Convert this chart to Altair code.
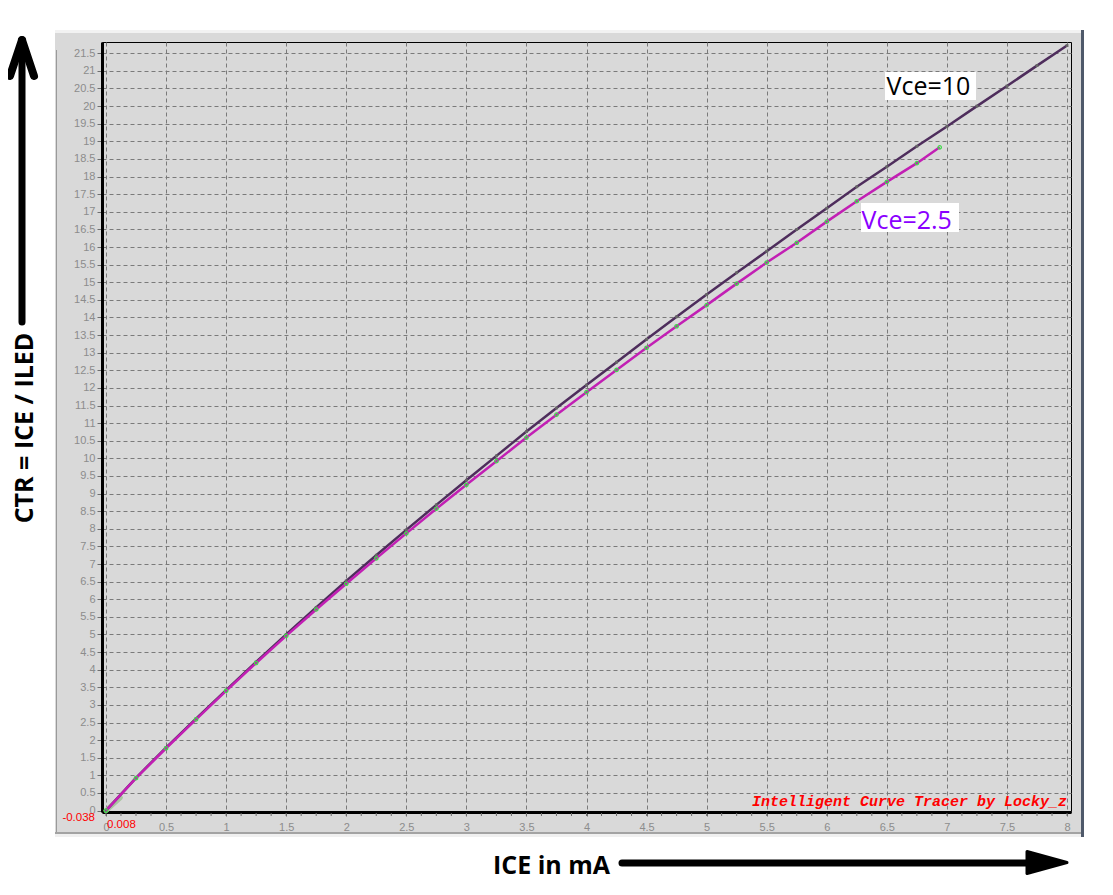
import altair as alt
import pandas as pd

# ---- data ----
ice_vce10 = [0.0, 0.25, 0.5, 0.75, 1.0, 1.25, 1.5, 1.75, 2.0, 2.25, 2.5, 2.75, 3.0, 3.25, 3.5, 3.75,
             4.0, 4.25, 4.5, 4.75, 5.0, 5.25, 5.5, 5.75, 6.0, 6.25, 6.5, 6.75, 7.0, 7.25, 7.5, 7.75, 8.0]
ctr_vce10 = [0.0, 0.93, 1.79, 2.61, 3.42, 4.22, 5.00, 5.77, 6.52, 7.25, 7.97, 8.68, 9.38, 10.07, 10.76, 11.43,
             12.08, 12.73, 13.38, 14.02, 14.65, 15.27, 15.88, 16.50, 17.10, 17.71, 18.28, 18.86, 19.42, 20.00,
             20.57, 21.15, 21.72]

ice_vce25 = [0.0, 0.25, 0.5, 0.75, 1.0, 1.25, 1.5, 1.75, 2.0, 2.25, 2.5, 2.75, 3.0, 3.25, 3.5, 3.75,
             4.0, 4.25, 4.5, 4.75, 5.0, 5.25, 5.5, 5.75, 6.0, 6.25, 6.5, 6.75, 6.94]
ctr_vce25 = [0.0, 0.92, 1.77, 2.59, 3.40, 4.19, 4.96, 5.71, 6.44, 7.16, 7.87, 8.57, 9.25, 9.92, 10.59, 11.24,
             11.88, 12.51, 13.14, 13.75, 14.35, 14.96, 15.56, 16.12, 16.72, 17.30, 17.85, 18.38, 18.83]

ice_start = [0.0, 0.12]
ctr_start = [0.0, 0.37]

x_ticks = [0, 0.5, 1, 1.5, 2, 2.5, 3, 3.5, 4, 4.5, 5, 5.5, 6, 6.5, 7, 7.5, 8]
y_ticks = [0, 0.5, 1, 1.5, 2, 2.5, 3, 3.5, 4, 4.5, 5, 5.5, 6, 6.5, 7, 7.5, 8, 8.5, 9, 9.5, 10, 10.5,
           11, 11.5, 12, 12.5, 13, 13.5, 14, 14.5, 15, 15.5, 16, 16.5, 17, 17.5, 18, 18.5, 19, 19.5,
           20, 20.5, 21, 21.5]
minor_x_ticks = [0, 0.125, 0.25, 0.375, 0.5, 0.625, 0.75, 0.875, 1, 1.125, 1.25, 1.375, 1.5, 1.625, 1.75,
                 1.875, 2, 2.125, 2.25, 2.375, 2.5, 2.625, 2.75, 2.875, 3, 3.125, 3.25, 3.375, 3.5, 3.625,
                 3.75, 3.875, 4, 4.125, 4.25, 4.375, 4.5, 4.625, 4.75, 4.875, 5, 5.125, 5.25, 5.375, 5.5,
                 5.625, 5.75, 5.875, 6, 6.125, 6.25, 6.375, 6.5, 6.625, 6.75, 6.875, 7, 7.125, 7.25, 7.375,
                 7.5, 7.625, 7.75, 7.875, 8]

x_min_text = "0.008"
y_min_text = "-0.038"
label_10 = "Vce=10"
label_25 = "Vce=2.5"
y_title = "CTR = ICE / ILED"
x_title = "ICE in mA"
watermark = "Intelligent Curve Tracer by Locky_z"

# ---- layout ----
W, H = 969, 770
PAD = {"left": 94, "top": 34, "right": 34, "bottom": 75}
PANEL = "#d9d9d9"

df10 = pd.DataFrame({"ice": ice_vce10, "ctr": ctr_vce10})
df25 = pd.DataFrame({"ice": ice_vce25, "ctr": ctr_vce25})
dfs = pd.DataFrame({"ice": ice_start, "ctr": ctr_start})
dfm = pd.DataFrame({"tick": minor_x_ticks})
one = pd.DataFrame({"k": [0]})

xscale = alt.Scale(domain=[-0.033, 8.033], nice=False, zero=False)
yscale = alt.Scale(domain=[-0.04, 21.82], nice=False, zero=False)

common_axis = dict(title=None, format="~g", labelColor="#8c8c8c", labelFont="Liberation Sans",
                   labelFontSize=11, tickColor="#6e6e6e", domainColor="black", domainWidth=3,
                   gridColor="#7a7a7a", gridDash=[4, 3], gridWidth=1, gridOpacity=1,
                   labelOverlap=False, labelFlush=False)
xaxis = alt.Axis(values=x_ticks, tickSize=4, labelPadding=5, **common_axis)
yaxis = alt.Axis(values=y_ticks, tickSize=5, labelPadding=2, **common_axis)


def X(field):
    return alt.X(field, type="quantitative", scale=xscale, axis=xaxis)


def Y(field):
    return alt.Y(field, type="quantitative", scale=yscale, axis=yaxis)


def rect(x, x2, y, y2, color):
    return alt.Chart(one).mark_rect(color=color).encode(
        x=alt.value(x), x2=alt.value(x2), y=alt.value(y), y2=alt.value(y2))


def rule(x, y, x2, y2, width, color="black"):
    return alt.Chart(one).mark_rule(color=color, strokeWidth=width, strokeCap="round").encode(
        x=alt.value(x), y=alt.value(y), x2=alt.value(x2), y2=alt.value(y2))


def text(t, x, y, **kw):
    return alt.Chart(one).mark_text(text=t, **kw).encode(x=alt.value(x), y=alt.value(y))


layers = []
# white outside of the grey panel
layers += [
    rect(-94, -47, -34, 845, "white"),
    rect(-94, 1003, -34, -12, "white"),
    rect(982, 1003, -34, 845, "white"),
    rect(-94, 1003, 795, 845, "white"),
    # panel edges
    rect(-47, 982, -12, -9, "#f2f2f2"),
    rect(979, 982, -12, 795, "#4f596a"),
    rect(-47, 979, 790, 792, "#a3a3a3"),
    rect(-47, 979, 792, 795, "#f0f0f0"),
    rect(-46, -45, 8, 790, "#9a9a9a"),
]

# minor ticks on the x axis
layers.append(alt.Chart(dfm).mark_rule(color="#6e6e6e", strokeWidth=1).encode(
    x=X("tick"), y=alt.value(771), y2=alt.value(774)))

# curves
layers.append(alt.Chart(dfs).mark_line(color="#a9c4a0", strokeWidth=5, strokeCap="round").encode(
    x=X("ice"), y=Y("ctr")))
layers.append(alt.Chart(df10).mark_line(color="#4e2d5c", strokeWidth=2.5).encode(x=X("ice"), y=Y("ctr")))
layers.append(alt.Chart(df10).mark_point(shape="square", filled=True, color="#666666", size=8, opacity=1).encode(
    x=X("ice"), y=Y("ctr")))
layers.append(alt.Chart(df25).mark_line(color="#c21fb4", strokeWidth=2.5).encode(x=X("ice"), y=Y("ctr")))
layers.append(alt.Chart(df25).mark_point(shape="circle", filled=False, color="#3fd94a", size=12,
                                         strokeWidth=1.2, opacity=1).encode(x=X("ice"), y=Y("ctr")))

# series labels
layers += [
    rect(783, 874, 30, 58, "white"),
    text(label_10, 784.5, 53, font="Open Sans", fontSize=25, color="black", align="left",
         baseline="alphabetic"),
    rect(759, 857, 161, 190, "white"),
    text(label_25, 759.5, 187, font="Open Sans", fontSize=25, color="#8a00ff", align="left",
         baseline="alphabetic"),
]

# red texts
layers += [
    text(y_min_text, -7, 775.5, font="Liberation Sans", fontSize=11.5, color="#ff0000", align="right",
         baseline="middle"),
    text(x_min_text, 5, 783, font="Liberation Sans", fontSize=11.5, color="#ff0000", align="left",
         baseline="middle"),
    text(watermark, 965, 759, font="Liberation Mono", fontSize=15, fontStyle="italic", fontWeight="bold",
         color="#ff0000", align="right", baseline="middle"),
]

# axis titles with arrows
layers += [
    text(y_title, -77.5, 386, font="Open Sans", fontSize=25, fontWeight="bold", color="black",
         angle=270, align="center", baseline="middle"),
    rule(-80, 280, -80, 0, 7),
    rule(-80, -2, -92, 34, 8),
    rule(-80, -2, -68, 34, 8),
    text(x_title, 391, 832, font="Open Sans", fontSize=25, fontWeight="bold", color="black",
         align="left", baseline="alphabetic"),
    rule(520, 821, 945, 821, 7),
    alt.Chart(one).mark_point(shape="M-1,-0.55L1,0L-1,0.55Z", filled=True, color="black", size=1600,
                              opacity=1, stroke="black", strokeWidth=3, strokeJoin="round").encode(
        x=alt.value(945), y=alt.value(820.5)),
]

chart = alt.layer(*layers).properties(
    width=W, height=H, padding=PAD,
    autosize=alt.AutoSizeParams(type="none"),
    background=PANEL,
).configure_view(stroke="black", strokeWidth=1)

chart.save("out.html", embed_options={"renderer": "svg", "actions": False})
